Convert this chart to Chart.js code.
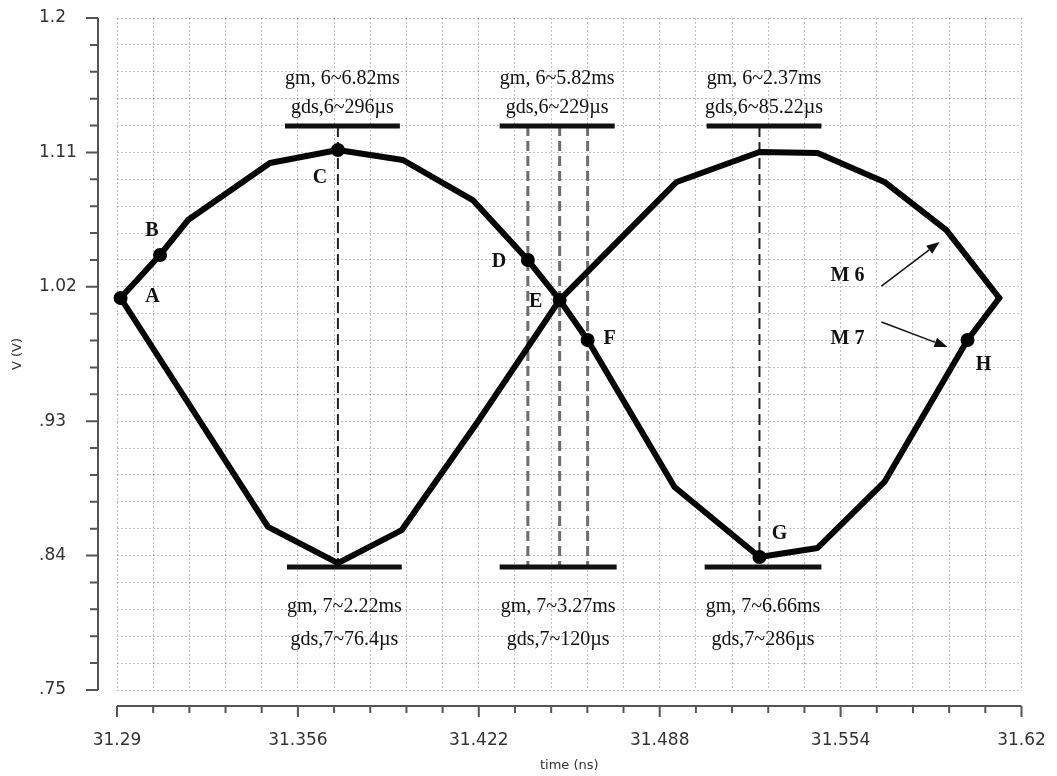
<!DOCTYPE html>
<html>
<head>
<meta charset="utf-8">
<script src="https://cdn.jsdelivr.net/npm/chart.js@4.4.1/dist/chart.umd.min.js"></script>
<style>
  html, body { margin: 0; padding: 0; background: #fff; }
  #wrap { width: 1057px; height: 776px; }
</style>
</head>
<body>
<div id="wrap"><canvas id="eyeChart" width="1057" height="776"></canvas></div>
<script>
// ---- axes ----
const xMajorTicks = [31.29, 31.356, 31.422, 31.488, 31.554, 31.62];
const xTickLabels = ["31.29", "31.356", "31.422", "31.488", "31.554", "31.62"];
const yMajorTicks = [0.75, 0.84, 0.93, 1.02, 1.11, 1.2];
const yTickLabels = [".75", ".84", ".93", "1.02", "1.11", "1.2"];
const minorPerMajor = 5;

// ---- waveforms (time in ns, volts) ----
const m6Time = [31.2913, 31.3057, 31.3159, 31.3458, 31.3706, 31.3943, 31.4198, 31.4399, 31.4515,
                31.4617, 31.4934, 31.5244, 31.5456, 31.5700, 31.6003, 31.6119];
const m6Volt = [1.0125, 1.0413, 1.0647, 1.1029, 1.1116, 1.1049, 1.0781, 1.0379, 1.0112,
                0.9844, 0.8859, 0.8391, 0.8451, 0.8893, 0.9844, 1.0125];
const m7Time = [31.2913, 31.3451, 31.3706, 31.3939, 31.4213, 31.4515, 31.4942, 31.5244,
                31.5456, 31.5700, 31.5926, 31.6119];
const m7Volt = [1.0125, 0.8592, 0.8350, 0.8571, 0.9288, 1.0112, 1.0902, 1.1103,
                1.1096, 1.0902, 1.0580, 1.0125];

// ---- marked points ----
const markNames = ["A", "B", "C", "D", "E", "F", "G", "H"];
const markTime = [31.2913, 31.3057, 31.3706, 31.4399, 31.4515, 31.4617, 31.5244, 31.6003];
const markVolt = [1.0125, 1.0413, 1.1116, 1.0379, 1.0112, 0.9844, 0.8391, 0.9844];
// label offset from the dot, px
const markDx = [32, -8, -18, -29, -24, 22, 20, 16];
const markDy = [-1, -24, 28, 2, 2, -1, -23, 25];

// ---- gm / gds bars ----
const topBarLevel = 1.1277;
const topBarStart = [31.3513, 31.4296, 31.5051];
const topBarEnd = [31.3932, 31.4716, 31.5470];
const topNotes = [["gm, 6~6.82ms", "gds,6~296µs"], ["gm, 6~5.82ms", "gds,6~229µs"], ["gm, 6~2.37ms", "gds,6~85.22µs"]];
const bottomBarLevel = 0.8324;
const bottomBarStart = [31.3520, 31.4296, 31.5044];
const bottomBarEnd = [31.3939, 31.4723, 31.5470];
const bottomNotes = [["gm, 7~2.22ms", "gds,7~76.4µs"], ["gm, 7~3.27ms", "gds,7~120µs"], ["gm, 7~6.66ms", "gds,7~286µs"]];

// ---- dashed guides ----
const blackGuideTime = [31.3706, 31.5244];
const blackGuideTo = [0.8324, 0.8391];
const grayGuideTime = [31.4399, 31.4515, 31.4617];

// ---- curve tags ----
const tagNames = ["M 6", "M 7"];
const tagTime = [31.5565, 31.5565];
const tagVolt = [1.0272, 0.9850];
const arrowFromTime = [31.5689, 31.5689];
const arrowFromVolt = [1.0205, 0.9964];
const arrowToTime = [31.5901, 31.5930];
const arrowToVolt = [1.0500, 0.9797];

// helpers
const zip = (xs, ys) => xs.map((x, i) => ({ x: x, y: ys[i] }));
function segments(starts, ends, level) {
  const pts = [];
  starts.forEach((s, i) => { pts.push({ x: s, y: level }, { x: ends[i], y: level }, { x: ends[i], y: null }); });
  return pts;
}
function verticals(times, from, to) {
  const pts = [];
  times.forEach((t, i) => { pts.push({ x: t, y: from[i] }, { x: t, y: to[i] }, { x: t, y: null }); });
  return pts;
}
function withMinor(majors) {
  const out = [];
  for (let i = 0; i < majors.length - 1; i++) {
    const step = (majors[i + 1] - majors[i]) / minorPerMajor;
    for (let k = 0; k < minorPerMajor; k++) out.push({ value: majors[i] + k * step, isMajor: k === 0 });
  }
  out.push({ value: majors[majors.length - 1], isMajor: true });
  return out;
}
function labelFor(value, majors, labels) {
  const i = majors.findIndex(m => Math.abs(m - value) < 1e-9);
  return i < 0 ? "" : labels[i];
}

const SERIF = "'Liberation Serif', 'Times New Roman', serif";
const SANS = "'DejaVu Sans', Verdana, sans-serif";

// offset axis lines + ticks (Virtuoso look), axis titles
const offsetAxes = {
  id: "offsetAxes",
  afterDraw(chart) {
    const { ctx, chartArea: a, scales: { x, y } } = chart;
    const yAxisX = a.left - 19;
    const xAxisY = a.bottom + 16;
    ctx.save();
    ctx.strokeStyle = "#555";
    ctx.lineWidth = 2;
    ctx.beginPath();
    ctx.moveTo(yAxisX, a.top);
    ctx.lineTo(yAxisX, a.bottom);
    y.ticks.forEach(t => {
      const py = y.getPixelForValue(t.value);
      ctx.moveTo(yAxisX - (t.isMajor ? 12 : 8), py);
      ctx.lineTo(yAxisX, py);
    });
    ctx.moveTo(a.left, xAxisY);
    ctx.lineTo(a.right, xAxisY);
    x.ticks.forEach(t => {
      const px = x.getPixelForValue(t.value);
      ctx.moveTo(px, xAxisY);
      ctx.lineTo(px, xAxisY + (t.isMajor ? 11 : 7));
    });
    ctx.stroke();

    ctx.fillStyle = "#333";
    ctx.font = "13px " + SANS;
    ctx.textAlign = "center";
    ctx.textBaseline = "middle";
    ctx.fillText("time (ns)", (a.left + a.right) / 2, a.bottom + 76);
    ctx.translate(a.left - 99, (a.top + a.bottom) / 2);
    ctx.rotate(-Math.PI / 2);
    ctx.fillText("V (V)", 0, 0);
    ctx.restore();
  }
};

// letters, notes, arrows
const annotations = {
  id: "annotations",
  afterDatasetsDraw(chart) {
    const { ctx, scales: { x, y } } = chart;
    ctx.save();
    ctx.fillStyle = "#111";
    ctx.textAlign = "center";
    ctx.textBaseline = "middle";
    ctx.font = "bold 20px " + SERIF;
    markNames.forEach((n, i) => {
      ctx.fillText(n, x.getPixelForValue(markTime[i]) + markDx[i], y.getPixelForValue(markVolt[i]) + markDy[i]);
    });
    tagNames.forEach((n, i) => {
      ctx.fillText(n, x.getPixelForValue(tagTime[i]), y.getPixelForValue(tagVolt[i]));
    });

    ctx.font = "20px " + SERIF;
    ctx.textBaseline = "alphabetic";
    topNotes.forEach((lines, i) => {
      const cx = x.getPixelForValue((topBarStart[i] + topBarEnd[i]) / 2);
      const by = y.getPixelForValue(topBarLevel);
      ctx.fillText(lines[0], cx, by - 42);
      ctx.fillText(lines[1], cx, by - 13);
    });
    bottomNotes.forEach((lines, i) => {
      const cx = x.getPixelForValue((bottomBarStart[i] + bottomBarEnd[i]) / 2);
      const by = y.getPixelForValue(bottomBarLevel);
      ctx.fillText(lines[0], cx, by + 45);
      ctx.fillText(lines[1], cx, by + 78);
    });

    ctx.strokeStyle = "#111";
    ctx.lineWidth = 1.5;
    arrowFromTime.forEach((t, i) => {
      const x0 = x.getPixelForValue(t), y0 = y.getPixelForValue(arrowFromVolt[i]);
      const x1 = x.getPixelForValue(arrowToTime[i]), y1 = y.getPixelForValue(arrowToVolt[i]);
      const ang = Math.atan2(y1 - y0, x1 - x0);
      const hl = 13, hw = 5;
      ctx.beginPath();
      ctx.moveTo(x0, y0);
      ctx.lineTo(x1 - hl * Math.cos(ang), y1 - hl * Math.sin(ang));
      ctx.stroke();
      ctx.beginPath();
      ctx.moveTo(x1, y1);
      ctx.lineTo(x1 - hl * Math.cos(ang) + hw * Math.sin(ang), y1 - hl * Math.sin(ang) - hw * Math.cos(ang));
      ctx.lineTo(x1 - hl * Math.cos(ang) - hw * Math.sin(ang), y1 - hl * Math.sin(ang) + hw * Math.cos(ang));
      ctx.closePath();
      ctx.fill();
    });
    ctx.restore();
  }
};

const lineBase = { pointRadius: 0, tension: 0, spanGaps: false, fill: false };

new Chart(document.getElementById("eyeChart"), {
  type: "line",
  data: {
    datasets: [
      { ...lineBase, label: "marks", data: zip(markTime, markVolt), showLine: false,
        pointRadius: 7, pointBackgroundColor: "#000", pointBorderWidth: 0, clip: false, order: 0 },
      { ...lineBase, label: "M6", data: zip(m6Time, m6Volt), borderColor: "#050505",
        borderWidth: 6, borderJoinStyle: "round", borderCapStyle: "round", order: 1 },
      { ...lineBase, label: "M7", data: zip(m7Time, m7Volt), borderColor: "#050505",
        borderWidth: 6, borderJoinStyle: "round", borderCapStyle: "round", order: 1 },
      { ...lineBase, label: "top bars", data: segments(topBarStart, topBarEnd, topBarLevel),
        borderColor: "#111", borderWidth: 5, borderCapStyle: "butt", order: 2 },
      { ...lineBase, label: "bottom bars", data: segments(bottomBarStart, bottomBarEnd, bottomBarLevel),
        borderColor: "#111", borderWidth: 5, borderCapStyle: "butt", order: 2 },
      { ...lineBase, label: "black guides",
        data: verticals(blackGuideTime, blackGuideTime.map(() => topBarLevel), blackGuideTo),
        borderColor: "#222", borderWidth: 2, borderDash: [11, 5], order: 3 },
      { ...lineBase, label: "gray guides",
        data: verticals(grayGuideTime, grayGuideTime.map(() => topBarLevel), grayGuideTime.map(() => bottomBarLevel)),
        borderColor: "#6e6e6e", borderWidth: 3, borderDash: [10, 5], order: 3 }
    ]
  },
  options: {
    responsive: false,
    animation: false,
    events: [],
    layout: { padding: { left: 39, top: 18, right: 35.5, bottom: 0 } },
    plugins: { legend: { display: false }, tooltip: { enabled: false } },
    scales: {
      x: {
        type: "linear",
        min: xMajorTicks[0],
        max: xMajorTicks[xMajorTicks.length - 1],
        afterBuildTicks: s => { s.ticks = withMinor(xMajorTicks); },
        afterFit: s => { s.height = 86; s.paddingLeft = 0; s.paddingRight = 0; },
        grid: { color: "rgba(0,0,0,0.24)", lineWidth: 1, drawTicks: false },
        border: { display: false, dash: [2, 2] },
        ticks: {
          autoSkip: false, maxRotation: 0, padding: 40, color: "#333",
          font: { family: SANS, size: 17 },
          callback: v => labelFor(v, xMajorTicks, xTickLabels)
        }
      },
      y: {
        type: "linear",
        min: yMajorTicks[0],
        max: yMajorTicks[yMajorTicks.length - 1],
        afterBuildTicks: s => { s.ticks = withMinor(yMajorTicks); },
        afterFit: s => { s.width = 78; s.paddingTop = 0; s.paddingBottom = 0; },
        grid: { color: "rgba(0,0,0,0.24)", lineWidth: 1, drawTicks: false },
        border: { display: false, dash: [2, 2] },
        ticks: {
          autoSkip: false, crossAlign: "far", color: "#333",
          font: { family: SANS, size: 17 },
          callback: v => labelFor(v, yMajorTicks, yTickLabels)
        }
      }
    }
  },
  plugins: [offsetAxes, annotations]
});
</script>
</body>
</html>
